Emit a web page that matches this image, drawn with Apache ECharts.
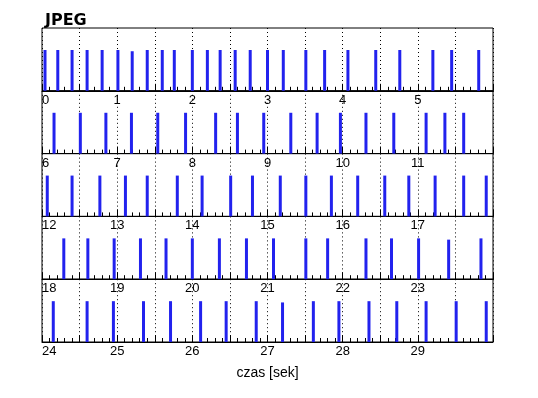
<!DOCTYPE html>
<html><head><meta charset="utf-8">
<script src="https://cdn.jsdelivr.net/npm/echarts@6/dist/echarts.min.js"></script>
<style>html,body{margin:0;padding:0;background:#fff}#c{width:538px;height:398px}</style>
</head><body><div id="c"></div>
<script>
const titleText = 'JPEG';
const xAxisName = 'czas [sek]';
const secondsPerRow = 6;
const rowCount = 5;
// frame arrival times (s)
const frameTimes = [
  0.04, 0.21, 0.40, 0.60, 0.80, 1.01, 1.20, 1.40, 1.60, 1.76, 2.00, 2.20, 2.37, 2.57, 2.77, 3.00, 3.21, 3.51, 3.76, 4.07, 4.44, 4.76, 5.20, 5.45, 5.81,
  6.16, 6.51, 6.85, 7.19, 7.54, 7.91, 8.31, 8.60, 8.95, 9.31, 9.66, 9.97, 10.31, 10.68, 11.11, 11.36, 11.61,
  12.07, 12.40, 12.77, 13.11, 13.40, 13.80, 14.13, 14.51, 14.80, 15.17, 15.51, 15.85, 16.20, 16.56, 16.88, 17.23, 17.61, 17.91,
  18.29, 18.61, 18.96, 19.31, 19.65, 20.00, 20.36, 20.72, 21.08, 21.51, 21.80, 22.31, 22.65, 23.01, 23.41, 23.84,
  24.15, 24.60, 24.95, 25.35, 25.71, 26.11, 26.45, 26.85, 27.20, 27.61, 27.95, 28.35, 28.72, 29.11, 29.51, 29.91
];
// relative frame heights
const frameHeights = [
  0.65, 0.65, 0.65, 0.65, 0.65, 0.65, 0.63, 0.65, 0.65, 0.65, 0.65, 0.65, 0.65, 0.65, 0.65, 0.65, 0.65, 0.65, 0.65, 0.65, 0.65, 0.65, 0.65, 0.65, 0.65,
  0.65, 0.65, 0.65, 0.65, 0.65, 0.65, 0.65, 0.65, 0.65, 0.65, 0.65, 0.65, 0.65, 0.65, 0.65, 0.65, 0.65,
  0.65, 0.65, 0.65, 0.65, 0.65, 0.65, 0.65, 0.65, 0.65, 0.65, 0.65, 0.65, 0.65, 0.65, 0.65, 0.65, 0.65, 0.65,
  0.65, 0.65, 0.65, 0.65, 0.65, 0.65, 0.65, 0.65, 0.65, 0.65, 0.65, 0.65, 0.65, 0.65, 0.63, 0.65,
  0.65, 0.65, 0.65, 0.65, 0.65, 0.65, 0.65, 0.65, 0.63, 0.65, 0.65, 0.65, 0.65, 0.65, 0.65, 0.65
];

const chart = echarts.init(document.getElementById('c'), null, {renderer: 'canvas'});
const top0 = 28, rowH = 62.8;
const grids = [], xAxes = [], yAxes = [], series = [];
for (let i = 0; i < rowCount; i++) {
  const lo = i * secondsPerRow, hi = lo + secondsPerRow;
  grids.push({left: 42, width: 451, top: top0 + i * rowH, height: rowH,
    show: true, borderColor: '#000', borderWidth: 1, backgroundColor: 'transparent'});
  xAxes.push({
    type: 'value', gridIndex: i, min: lo, max: hi, interval: 0.5,
    axisLine: {show: true, onZero: false, lineStyle: {color: '#000', width: 1}},
    axisTick: {show: true, inside: true, length: 7, lineStyle: {color: '#000'}},
    minorTick: {show: true, splitNumber: 5, length: 4, lineStyle: {color: '#000'}},
    splitLine: {show: true, lineStyle: {color: '#000', type: [1, 3], width: 1}},
    axisLabel: {
      show: true, color: '#000', fontFamily: 'Liberation Sans, Arial, sans-serif', fontSize: 13,
      margin: 3, showMaxLabel: false, showMinLabel: true, alignMinLabel: 'left',
      formatter: v => (Math.abs(v - Math.round(v)) < 1e-6 ? String(Math.round(v)) : '')
    },
    name: i === rowCount - 1 ? xAxisName : '',
    nameLocation: 'middle', nameGap: 24,
    nameTextStyle: {color: '#000', fontFamily: 'Liberation Sans, Arial, sans-serif', fontSize: 14}
  });
  yAxes.push({type: 'value', gridIndex: i, min: 0, max: 1, show: false, splitLine: {show: false}});
  const data = [];
  frameTimes.forEach((t, k) => { if (t >= lo && t < hi) data.push([t, frameHeights[k]]); });
  series.push({type: 'bar', xAxisIndex: i, yAxisIndex: i, data: data, barWidth: 3,
    itemStyle: {color: '#2222ee'}, silent: true, animation: false});
}
chart.setOption({
  animation: false,
  backgroundColor: '#fff',
  title: {text: titleText, left: 40, top: 8,
    textStyle: {fontFamily: 'DejaVu Sans', fontWeight: 'bold', fontSize: 16, color: '#000'}},
  grid: grids, xAxis: xAxes, yAxis: yAxes, series: series
});
</script></body></html>
